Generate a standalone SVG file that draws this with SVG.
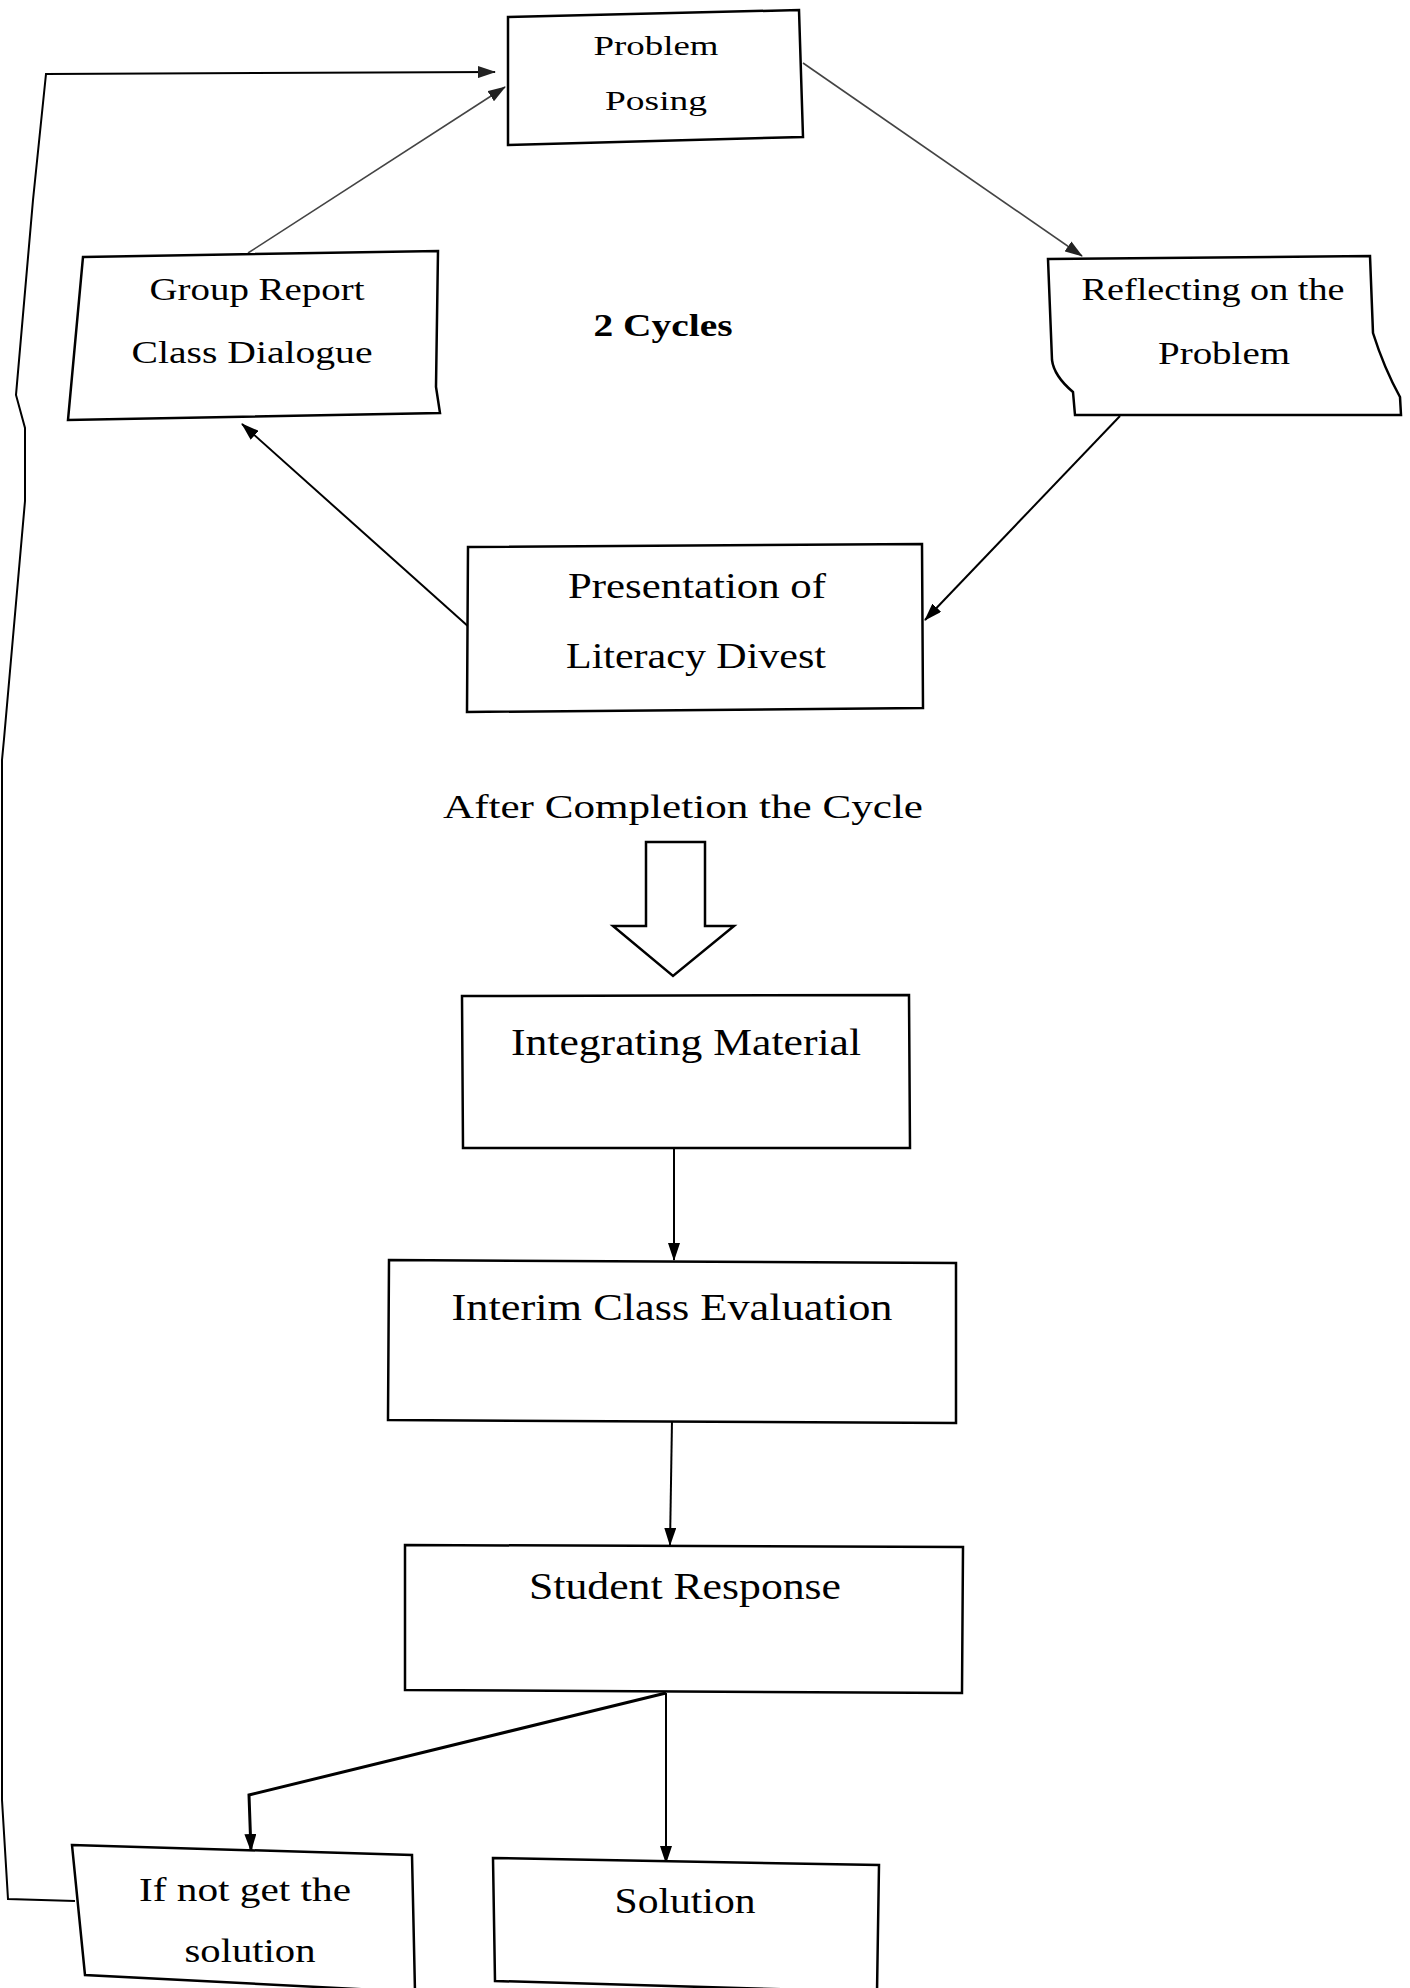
<svg xmlns="http://www.w3.org/2000/svg" width="1410" height="1988" viewBox="0 0 1410 1988">
<defs>
<marker id="ah" markerWidth="18" markerHeight="12" refX="17" refY="6" orient="auto" markerUnits="userSpaceOnUse">
<path d="M0,0 L18,6 L0,12 Z" fill="#000"/>
</marker>
<marker id="ahg" markerWidth="18" markerHeight="12" refX="17" refY="6" orient="auto" markerUnits="userSpaceOnUse">
<path d="M0,0 L18,6 L0,12 Z" fill="#222"/>
</marker>
<style>
.box{fill:#fff;stroke:#000;stroke-width:2.5;stroke-linejoin:miter}
.t{font-family:"Liberation Serif","Times New Roman",serif;fill:#000;text-anchor:middle}
.c{fill:none;stroke:#000;stroke-width:2}
.cg{fill:none;stroke:#444;stroke-width:1.6}
</style>
</defs>
<rect width="1410" height="1988" fill="#fff"/>

<g id="connectors">
<path class="c" d="M75,1901 L8,1899 L2,1800 L2,760 L4,739 L25,501 L25,428 L16,395 L33,200 L46,74 L495,72" marker-end="url(#ahg)"/>
<line class="cg" x1="248" y1="253" x2="505" y2="87" marker-end="url(#ahg)"/>
<line class="cg" x1="803" y1="63" x2="1082" y2="256" marker-end="url(#ahg)"/>
<line class="c" x1="1120" y1="416" x2="925" y2="620" marker-end="url(#ah)"/>
<line class="c" x1="470" y1="628" x2="242" y2="424" marker-end="url(#ah)"/>
<line class="c" x1="674" y1="1148" x2="674" y2="1260" marker-end="url(#ah)"/>
<line class="c" x1="672" y1="1420" x2="670" y2="1545" marker-end="url(#ah)"/>
<path class="c" style="stroke-width:3" d="M666,1693 L249,1795 L251,1851" marker-end="url(#ah)"/>
<line class="c" x1="666" y1="1693" x2="666" y2="1863" marker-end="url(#ah)"/>
<polygon class="box" points="646,842 705,842 705,926 734,926 673,976 613,926 646,926"/>
</g>

<g id="problem-posing">
<polygon class="box" points="508,17 799,10 803,137 508,145"/>
<text class="t" x="656" y="55" font-size="28" textLength="125" lengthAdjust="spacingAndGlyphs">Problem</text>
<text class="t" x="656" y="110" font-size="28" textLength="102" lengthAdjust="spacingAndGlyphs">Posing</text>
</g>

<g id="group-report">
<polygon class="box" points="83,257 438,251 436,387 440,413 68,420"/>
<text class="t" x="257" y="300" font-size="31" textLength="215" lengthAdjust="spacingAndGlyphs">Group Report</text>
<text class="t" x="252" y="363" font-size="31" textLength="241" lengthAdjust="spacingAndGlyphs">Class Dialogue</text>
</g>

<g id="cycles-label">
<text class="t" x="663" y="336" font-size="31" font-weight="bold" textLength="139" lengthAdjust="spacingAndGlyphs">2 Cycles</text>
</g>

<g id="reflecting">
<path class="box" d="M1048,259 L1370,256 L1373,333 Q1384,368 1400,397 L1401,415 L1075,415 L1073,392 Q1054,376 1052,360 Z"/>
<text class="t" x="1213" y="300" font-size="31" textLength="263" lengthAdjust="spacingAndGlyphs">Reflecting on the</text>
<text class="t" x="1224" y="364" font-size="31" textLength="132" lengthAdjust="spacingAndGlyphs">Problem</text>
</g>

<g id="presentation">
<polygon class="box" points="468,547 922,544 923,708 467,712"/>
<text class="t" x="697" y="598" font-size="35" textLength="258" lengthAdjust="spacingAndGlyphs">Presentation of</text>
<text class="t" x="696" y="668" font-size="35" textLength="260" lengthAdjust="spacingAndGlyphs">Literacy Divest</text>
</g>

<g id="after-completion">
<text class="t" x="683" y="818" font-size="34" textLength="480" lengthAdjust="spacingAndGlyphs">After Completion the Cycle</text>
</g>

<g id="integrating">
<polygon class="box" points="462,996 909,995 910,1148 463,1148"/>
<text class="t" x="686" y="1055" font-size="37" textLength="350" lengthAdjust="spacingAndGlyphs">Integrating Material</text>
</g>

<g id="interim">
<polygon class="box" points="389,1260 956,1263 956,1423 388,1420"/>
<text class="t" x="672" y="1320" font-size="37" textLength="441" lengthAdjust="spacingAndGlyphs">Interim Class Evaluation</text>
</g>

<g id="student-response">
<polygon class="box" points="405,1545 963,1547 962,1693 405,1690"/>
<text class="t" x="685" y="1599" font-size="37" textLength="312" lengthAdjust="spacingAndGlyphs">Student Response</text>
</g>

<g id="if-not">
<polygon class="box" points="72,1845 412,1855 415,1992 85,1975"/>
<text class="t" x="245" y="1901" font-size="34" textLength="212" lengthAdjust="spacingAndGlyphs">If not get the</text>
<text class="t" x="250" y="1962" font-size="34" textLength="131" lengthAdjust="spacingAndGlyphs">solution</text>
</g>

<g id="solution">
<polygon class="box" points="493,1858 879,1865 877,1992 495,1981"/>
<text class="t" x="685" y="1913" font-size="35" textLength="141" lengthAdjust="spacingAndGlyphs">Solution</text>
</g>
</svg>
